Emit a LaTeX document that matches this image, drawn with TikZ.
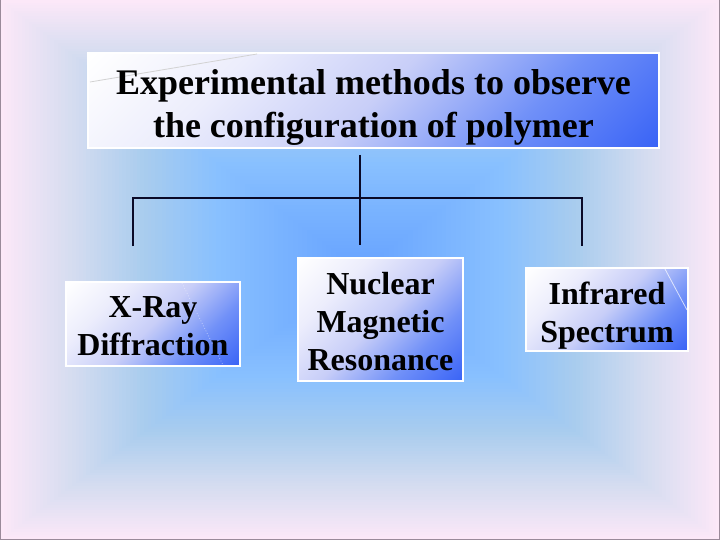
\documentclass[tikz,border=0pt]{standalone}
\usepackage{fontspec}
\setmainfont{Liberation Serif}
\definecolor{bgE}{HTML}{FCE8F8}
\definecolor{bgF}{HTML}{D4DCF0}
\definecolor{bgG}{HTML}{A8CCEE}
\definecolor{bgM}{HTML}{88C0FF}
\definecolor{bgC}{HTML}{66A2FF}
\definecolor{bxW}{HTML}{ECEDFC}
\definecolor{bxA}{HTML}{C8CEF8}
\definecolor{bxB}{HTML}{7090F8}
\definecolor{bxC}{HTML}{3A64F6}
\definecolor{lineC}{HTML}{0A0A28}
\definecolor{frameC}{HTML}{9A8A9A}
\pgfdeclarehorizontalshading{boxshade}{100bp}{color(0bp)=(white); color(15bp)=(white); color(32bp)=(bxW); color(50bp)=(bxA); color(68bp)=(bxB); color(85bp)=(bxC); color(100bp)=(bxC)}
\newcommand\bgseg[5]{%
  \foreach \k in {0,...,#5}{%
    \pgfmathsetmacro\tt{#1+(#2-#1)*\k/#5}%
    \pgfmathtruncatemacro\pp{100*\k/#5}%
    \fill[#4!\pp!#3] ({360-360*\tt},{270-270*\tt}) rectangle ({360+360*\tt},{270+270*\tt});
  }%
}
\tikzset{
  gbox/.style={draw=white, line width=1.5pt, shading=boxshade, shading angle=-45, inner sep=0pt},
  ttext/.style={align=center, inner sep=0pt, font=\fontsize{36}{43}\selectfont\bfseries},
  ctext/.style={align=center, inner sep=0pt, font=\fontsize{32}{38}\selectfont\bfseries},
  conn/.style={draw=lineC, line width=1.3pt},
  deco/.style={white, line width=0.8pt, opacity=0.7}
}
\begin{document}
\begin{tikzpicture}[x=1pt,y=-1pt]
\useasboundingbox (0,0) rectangle (720,540);
\bgseg{1}{0.8}{bgE}{bgF}{20}
\bgseg{0.8}{0.6}{bgF}{bgG}{20}
\bgseg{0.6}{0.4}{bgG}{bgM}{20}
\bgseg{0.4}{0}{bgM}{bgC}{30}
\draw[frameC, line width=1pt] (0.5,0) -- (0.5,539.5) -- (719.5,539.5) -- (719.5,0);

% boxes
\node[gbox, minimum width=571pt, minimum height=95pt] (top) at (373.5,100.5) {};
\node[gbox, minimum width=174pt, minimum height=84pt] (xray) at (153,324) {};
\node[gbox, minimum width=165pt, minimum height=123pt] (nmr) at (380.5,319.5) {};
\node[gbox, minimum width=162pt, minimum height=83pt] (ir) at (607,309.5) {};

% faint decorative strokes inside the boxes
\draw[gray!35, line width=0.8pt] (90,82) -- (257,54);
\draw[deco, opacity=0.45, dotted] (182,283) -- (223,365);
\draw[deco] (665,269) -- (687,310);

% texts
\node[ttext, yshift=-6.5pt] (topT) at (top) {Experimental methods to observe\\the configuration of polymer};
\node[ctext, yshift=-2.5pt] (xrayT) at (xray) {X-Ray\\Diffraction};
\node[ctext, yshift=-2pt] (nmrT) at (nmr) {Nuclear\\Magnetic\\Resonance};
\node[ctext, yshift=-6pt] (irT) at (ir) {Infrared\\Spectrum};

% connectors
\coordinate (tA) at (360,155);
\coordinate (jL) at (133,198);
\coordinate (jR) at (582,198);
\coordinate (eL) at (133,246);
\coordinate (eM) at (360,245);
\coordinate (eR) at (582,246);
\draw[conn] (tA) -- (eM);
\draw[conn] (eL) -- (jL) -- (jR) -- (eR);
\end{tikzpicture}
\end{document}
